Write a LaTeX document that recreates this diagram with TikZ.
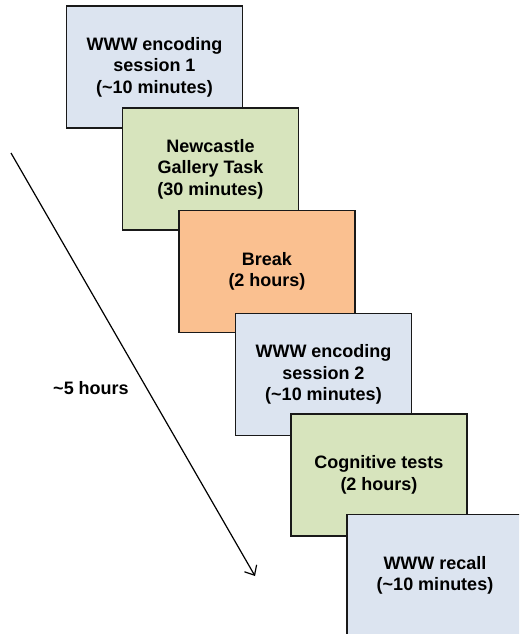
\documentclass[tikz,border=0pt]{standalone}
\usepackage{fontspec}
\setmainfont{Liberation Sans}
\usetikzlibrary{arrows.meta}

\definecolor{encblue}{RGB}{220,228,240}
\definecolor{taskgreen}{RGB}{215,228,189}
\definecolor{breakorange}{RGB}{250,192,144}

\tikzset{
    stage/.style={draw=black!90, line width=1.4pt, minimum width=176pt, minimum height=122pt,
        inner sep=0pt, align=center, font=\bfseries\fontsize{18}{21.5}\selectfont},
    timeline/.style={line width=1.2pt, -{Straight Barb[length=8pt,width=14pt,line width=1.2pt]}}
}

\begin{document}
\begin{tikzpicture}[x=1pt, y=-1pt]
        \clip (0,0) rectangle (519,634);

        \node[stage, fill=encblue] (enc1) at (154.5, 67) {WWW encoding\\session 1\\(\char`\~10 minutes)};
        \node[stage, fill=taskgreen] (gallery) at (210.5, 169) {Newcastle\\Gallery Task\\(30 minutes)};
        \node[stage, fill=breakorange] (break) at (267, 271.5) {Break\\(2 hours)};
        \node[stage, fill=encblue] (enc2) at (323.5, 374.5) {WWW encoding\\session 2\\(\char`\~10 minutes)};
        \node[stage, fill=taskgreen] (cog) at (379, 475) {Cognitive tests\\(2 hours)};
        \node[stage, fill=encblue] (recall) at (435, 575.5) {WWW recall\\(\char`\~10 minutes)};

        \coordinate (tstart) at (11, 153);
        \coordinate (tend) at (255, 576);
        \draw[timeline] (tstart) -- (tend);
        \node[font=\bfseries\fontsize{18}{21.5}\selectfont] (total) at (91, 388) {\char`\~5 hours};
    \end{tikzpicture}
\end{document}
